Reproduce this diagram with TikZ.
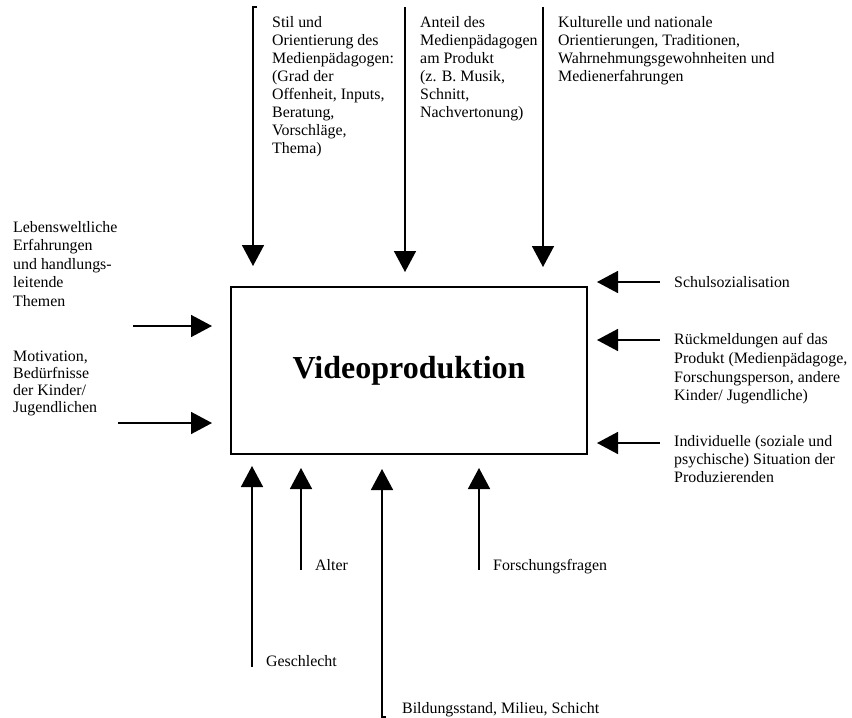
\documentclass[tikz,border=0pt]{standalone}
\usepackage{fontspec}
\setmainfont{Liberation Serif}
\usetikzlibrary{arrows.meta}

\tikzset{
  einfluss/.style={anchor=north west, align=left, inner sep=0pt,
    font=\fontsize{15.9}{18}\selectfont},
  pfeil/.style={line width=1.6pt, -{Triangle[length=21pt,width=22pt]}},
}

\begin{document}
\begin{tikzpicture}[x=1pt,y=-1pt]
    \useasboundingbox (0,0) rectangle (852,718);

    \node[draw, line width=1.5pt, minimum width=356pt, minimum height=167pt,
      inner sep=0pt, font=\fontsize{32}{38}\selectfont\bfseries]
      (video) at (409,370.5) {Videoproduktion};

    \node[einfluss] (stil) at (272,16) {Stil und\\Orientierung des\\Medienpädagogen:\\(Grad der\\Offenheit, Inputs,\\Beratung,\\Vorschläge,\\Thema)};
    \node[einfluss] (anteil) at (420,16) {Anteil des\\Medienpädagogen\\am Produkt\\(z. B. Musik,\\Schnitt,\\Nachvertonung)};
    \node[einfluss] (kultur) at (558,16) {Kulturelle und nationale\\Orientierungen, Traditionen,\\Wahrnehmungsgewohnheiten und\\Medienerfahrungen};
    \node[einfluss, font=\fontsize{15.9}{18.5}\selectfont] (lebenswelt) at (13,221) {Lebensweltliche\\Erfahrungen\\und handlungs-\\leitende\\Themen};
    \node[einfluss, font=\fontsize{15.9}{17}\selectfont] (motivation) at (13,351) {Motivation,\\Bedürfnisse\\der Kinder/\\Jugendlichen};
    \node[einfluss] (schule) at (674,276) {Schulsozialisation};
    \node[einfluss, font=\fontsize{15.9}{18.8}\selectfont] (rueckmeldung) at (674,333) {Rückmeldungen auf das\\Produkt (Medienpädagoge,\\Forschungsperson, andere\\Kinder/ Jugendliche)};
    \node[einfluss] (situation) at (674,435) {Individuelle (soziale und\\psychische) Situation der\\Produzierenden};
    \node[einfluss] (geschlecht) at (266,655) {Geschlecht};
    \node[einfluss] (alter) at (315,559) {Alter};
    \node[einfluss] (forschung) at (493,559) {Forschungsfragen};
    \node[einfluss] (bildung) at (402,702) {Bildungsstand, Milieu, Schicht};

    \coordinate (stil-a) at (253,7);
    \coordinate (stil-b) at (253,266);
    \coordinate (anteil-a) at (405,7);
    \coordinate (anteil-b) at (405,272);
    \coordinate (kultur-a) at (543,7);
    \coordinate (kultur-b) at (543,267);
    \coordinate (lebenswelt-a) at (133,326);
    \coordinate (lebenswelt-b) at (212,326);
    \coordinate (motivation-a) at (118,423);
    \coordinate (motivation-b) at (212,423);
    \coordinate (schule-a) at (660,282);
    \coordinate (schule-b) at (597,282);
    \coordinate (rueckmeldung-a) at (660,340);
    \coordinate (rueckmeldung-b) at (597,340);
    \coordinate (situation-a) at (660,443);
    \coordinate (situation-b) at (597,443);
    \coordinate (geschlecht-a) at (252,667);
    \coordinate (geschlecht-b) at (252,466);
    \coordinate (alter-a) at (301,570);
    \coordinate (alter-b) at (301,468);
    \coordinate (bildung-a) at (382,717);
    \coordinate (bildung-b) at (382,469);
    \coordinate (forschung-a) at (479,570);
    \coordinate (forschung-b) at (479,468);

    \draw[pfeil] (stil-a) ++(4,0) -- (stil-a) -- (stil-b);
    \draw[pfeil] (anteil-a) -- (anteil-b);
    \draw[pfeil] (kultur-a) -- (kultur-b);
    \draw[pfeil] (lebenswelt-a) -- (lebenswelt-b);
    \draw[pfeil] (motivation-a) -- (motivation-b);
    \draw[pfeil] (schule-a) -- (schule-b);
    \draw[pfeil] (rueckmeldung-a) -- (rueckmeldung-b);
    \draw[pfeil] (situation-a) -- (situation-b);
    \draw[pfeil] (geschlecht-a) -- (geschlecht-b);
    \draw[pfeil] (alter-a) -- (alter-b);
    \draw[pfeil] (bildung-a) ++(4,0) -- (bildung-a) -- (bildung-b);
    \draw[pfeil] (forschung-a) -- (forschung-b);
\end{tikzpicture}
\end{document}
